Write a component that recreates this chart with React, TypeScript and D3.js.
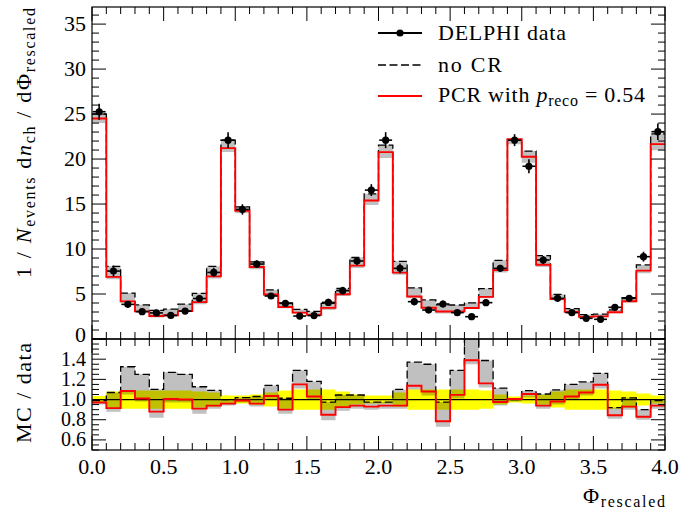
import React from 'react';
import * as d3 from 'd3';

// ---- data (40 bins of width 0.1 in Phi_rescaled) ----
const binEdges = [
  0.0, 0.1, 0.2, 0.3, 0.4, 0.5, 0.6, 0.7, 0.8, 0.9,
  1.0, 1.1, 1.2, 1.3, 1.4, 1.5, 1.6, 1.7, 1.8, 1.9,
  2.0, 2.1, 2.2, 2.3, 2.4, 2.5, 2.6, 2.7, 2.8, 2.9,
  3.0, 3.1, 3.2, 3.3, 3.4, 3.5, 3.6, 3.7, 3.8, 3.9, 4.0,
];

const delphiData = [
  25.26, 7.55, 3.85, 3.04, 2.9, 2.62, 3.1, 4.5, 7.4, 22.1,
  14.4, 8.33, 4.78, 3.96, 2.55, 2.6, 4.07, 5.37, 8.67, 16.55,
  22.1, 7.85, 4.15, 3.22, 3.89, 2.93, 2.48, 4.04, 7.85, 22.1,
  19.2, 8.78, 4.52, 2.93, 2.3, 2.19, 3.52, 4.52, 9.15, 23.04,
];

const dataRelErr = [
  0.035, 0.08, 0.09, 0.09, 0.09, 0.09, 0.09, 0.08, 0.07, 0.04,
  0.04, 0.05, 0.07, 0.09, 0.1, 0.1, 0.1, 0.08, 0.05, 0.04,
  0.04, 0.07, 0.1, 0.1, 0.1, 0.1, 0.1, 0.09, 0.05, 0.03,
  0.04, 0.05, 0.08, 0.1, 0.1, 0.1, 0.09, 0.08, 0.06, 0.04,
];

const noCRRatio = [
  0.99, 1.07, 1.325, 1.25, 1.1, 1.27, 1.25, 1.127, 1.09, 1.0,
  1.02, 1.03, 1.14, 1.013, 1.29, 1.18, 0.975, 1.045, 1.045, 0.975,
  0.975, 1.1, 1.37, 1.35, 0.975, 1.29, 1.62, 1.387, 1.114, 1.0,
  1.088, 1.055, 1.095, 1.15, 1.175, 1.26, 0.92, 1.017, 0.9, 0.99,
];

const pcrRatio = [
  0.97, 0.915, 1.085, 1.01, 0.88, 1.005, 1.0, 0.91, 0.94, 0.96,
  0.99, 0.96, 1.035, 0.9, 1.15, 1.03, 0.85, 0.925, 0.94, 0.93,
  0.94, 0.94, 1.137, 1.08, 0.785, 1.046, 1.39, 1.16, 0.975, 1.005,
  1.055, 0.94, 0.98, 1.03, 1.07, 1.146, 0.845, 0.93, 0.83, 0.94,
];

const bandLowRatio = [
  0.95, 0.88, 1.05, 0.98, 0.82, 0.97, 0.97, 0.86, 0.91, 0.94,
  0.97, 0.93, 1.0, 0.86, 1.11, 1.0, 0.795, 0.89, 0.91, 0.9,
  0.91, 0.91, 1.1, 1.04, 0.73, 1.01, 1.35, 1.12, 0.94, 0.98,
  1.02, 0.91, 0.95, 1.0, 1.04, 1.11, 0.81, 0.9, 0.8, 0.91,
];

const xTickValues = [0, 0.5, 1.0, 1.5, 2.0, 2.5, 3.0, 3.5, 4.0];
const xTickLabels = ['0.0', '0.5', '1.0', '1.5', '2.0', '2.5', '3.0', '3.5', '4.0'];
const yMainTickValues = [0, 5, 10, 15, 20, 25, 30, 35];
const yMainTickLabels = ['0', '5', '10', '15', '20', '25', '30', '35'];
const yRatioTickValues = [0.6, 0.8, 1.0, 1.2, 1.4];
const yRatioTickLabels = ['0.6', '0.8', '1.0', '1.2', '1.4'];

// ---- layout ----
const W = 683;
const H = 521;
const PL = 92;
const PR = 665;
const PT = 7;
const PM = 339;
const PB = 450;
const FONT = 'Liberation Serif';
const FS = 22;
const SUB = 16;

export default function App() {
  const n = delphiData.length;
  const x = d3.scaleLinear().domain([0, 4]).range([PL, PR]);
  const yM = d3.scaleLinear().domain([0, 36.9]).range([PM, PT]);
  const yR = d3.scaleLinear().domain([0.5, 1.6]).range([PB, PM]);

  const idx = d3.range(n + 1);
  const at = (arr: number[], i: number) => arr[Math.min(i, n - 1)];

  const noCRMain = delphiData.map((d, i) => d * noCRRatio[i]);
  const pcrMain = delphiData.map((d, i) => d * pcrRatio[i]);
  const bandHiRatio = noCRRatio.map((v, i) => Math.max(v, pcrRatio[i]));
  const bandHiMain = delphiData.map((d, i) => d * bandHiRatio[i]);
  const bandLoMain = delphiData.map((d, i) => d * bandLowRatio[i]);
  const ones = delphiData.map(() => 1);
  const yelLo = dataRelErr.map((e) => 1 - e);
  const yelHi = dataRelErr.map((e) => 1 + e);

  const stepLine = (ys: d3.ScaleLinear<number, number>, arr: number[]) =>
    d3
      .line<number>()
      .x((i) => x(binEdges[i]))
      .y((i) => ys(at(arr, i)))
      .curve(d3.curveStepAfter)(idx) || '';
  const stepArea = (ys: d3.ScaleLinear<number, number>, lo: number[], hi: number[]) =>
    d3
      .area<number>()
      .x((i) => x(binEdges[i]))
      .y0((i) => ys(at(lo, i)))
      .y1((i) => ys(at(hi, i)))
      .curve(d3.curveStepAfter)(idx) || '';

  const xMinor = d3.range(0, 41).map((k) => k / 10);
  const yMainMinor = d3.range(0, 37);
  const yRatioMinor = d3.range(10, 33).map((k) => k * 0.05);

  const tickLines: any[] = [];
  const addXTicks = (yy: number, dir: number, key: string) => {
    xMinor.forEach((v, k) => {
      const major = k % 5 === 0;
      const len = major ? 14 : 7;
      tickLines.push(
        <line key={`${key}-${k}`} x1={x(v)} x2={x(v)} y1={yy} y2={yy + dir * len} stroke="#000" strokeWidth={1} />
      );
    });
  };
  addXTicks(PT, 1, 'mt');
  addXTicks(PM, -1, 'mb');
  addXTicks(PM, 1, 'rt');
  addXTicks(PB, -1, 'rb');
  yMainMinor.forEach((v) => {
    const major = v % 5 === 0;
    const len = major ? 14 : 7;
    tickLines.push(<line key={`ml${v}`} x1={PL} x2={PL + len} y1={yM(v)} y2={yM(v)} stroke="#000" strokeWidth={1} />);
    tickLines.push(<line key={`mr${v}`} x1={PR} x2={PR - len} y1={yM(v)} y2={yM(v)} stroke="#000" strokeWidth={1} />);
  });
  yRatioMinor.forEach((v, k) => {
    const major = Math.abs(v * 5 - Math.round(v * 5)) < 1e-6;
    const len = major ? 14 : 7;
    tickLines.push(<line key={`rl${k}`} x1={PL} x2={PL + len} y1={yR(v)} y2={yR(v)} stroke="#000" strokeWidth={1} />);
    tickLines.push(<line key={`rr${k}`} x1={PR} x2={PR - len} y1={yR(v)} y2={yR(v)} stroke="#000" strokeWidth={1} />);
  });

  const binCenter = (i: number) => (binEdges[i] + binEdges[i + 1]) / 2;
  const ts = { fontFamily: FONT };
  const dash = '8,3.5';

  return (
    <svg width={W} height={H} style={{ position: 'absolute', left: 0, top: 0, background: '#fff', fontFamily: FONT }}>
      <defs>
        <clipPath id="clipMain">
          <rect x={PL} y={PT} width={PR - PL} height={PM - PT} />
        </clipPath>
        <clipPath id="clipRatio">
          <rect x={PL} y={PM} width={PR - PL} height={PB - PM} />
        </clipPath>
      </defs>
      <rect x={0} y={0} width={W} height={H} fill="#fff" />

      {/* main panel */}
      <g clipPath="url(#clipMain)">
        <path d={stepArea(yM, bandLoMain, bandHiMain)} fill="#c0c0c0" stroke="none" />
        <path d={stepLine(yM, noCRMain)} fill="none" stroke="#000" strokeWidth={1.3} strokeDasharray={dash} />
        <path d={stepLine(yM, pcrMain)} fill="none" stroke="#ff0000" strokeWidth={1.9} />
        {delphiData.map((d, i) => {
          const cx = x(binCenter(i));
          const e = d * dataRelErr[i];
          return (
            <g key={`pt${i}`}>
              <line x1={cx} x2={cx} y1={yM(d - e)} y2={yM(d + e)} stroke="#000" strokeWidth={1.6} />
              <line x1={x(binCenter(i) - 0.045)} x2={x(binCenter(i) + 0.045)} y1={yM(d)} y2={yM(d)} stroke="#000" strokeWidth={1.6} />
              <circle cx={cx} cy={yM(d)} r={3.6} fill="#000" />
            </g>
          );
        })}
      </g>

      {/* ratio panel */}
      <g clipPath="url(#clipRatio)">
        <path d={stepArea(yR, yelLo, yelHi)} fill="#ffff00" stroke="none" />
        <path d={stepArea(yR, bandLowRatio, bandHiRatio)} fill="#c0c0c0" stroke="none" style={{ mixBlendMode: 'multiply' }} />
        <path d={stepLine(yR, ones)} fill="none" stroke="#000" strokeWidth={1.2} />
        <path d={stepLine(yR, noCRRatio)} fill="none" stroke="#000" strokeWidth={1.3} strokeDasharray={dash} />
        <path d={stepLine(yR, pcrRatio)} fill="none" stroke="#ff0000" strokeWidth={1.9} />
      </g>

      {tickLines}
      <rect x={PL} y={PT} width={PR - PL} height={PM - PT} fill="none" stroke="#000" strokeWidth={1.2} />
      <rect x={PL} y={PM} width={PR - PL} height={PB - PM} fill="none" stroke="#000" strokeWidth={1.2} />

      {/* tick labels */}
      {yMainTickValues.map((v, k) => (
        <text key={`yl${k}`} style={ts} x={PL - 6} y={yM(v) + (v === 0 ? 3 : 7)} textAnchor="end" fontSize={FS}>
          {yMainTickLabels[k]}
        </text>
      ))}
      {yRatioTickValues.map((v, k) => (
        <text key={`yrl${k}`} style={ts} x={PL - 6} y={yR(v) + 6.5} textAnchor="end" fontSize={20}>
          {yRatioTickLabels[k]}
        </text>
      ))}
      {xTickValues.map((v, k) => (
        <text key={`xl${k}`} style={ts} x={x(v)} y={474} textAnchor="middle" fontSize={FS}>
          {xTickLabels[k]}
        </text>
      ))}

      {/* axis titles */}
      <text style={ts} transform={`translate(31,${PT + 1}) rotate(-90)`} textAnchor="end" fontSize={FS} textLength={270} lengthAdjust="spacing">
        <tspan>1 / </tspan>
        <tspan fontStyle="italic">N</tspan>
        <tspan fontSize={SUB} dy={4}>events</tspan>
        <tspan dy={-4}> d</tspan>
        <tspan fontStyle="italic">n</tspan>
        <tspan fontSize={SUB} dy={4}>ch</tspan>
        <tspan dy={-4}> / dΦ</tspan>
        <tspan fontSize={SUB} dy={4}>rescaled</tspan>
      </text>
      <text style={ts} transform={`translate(31,${PM + 4}) rotate(-90)`} textAnchor="end" fontSize={FS} textLength={100} lengthAdjust="spacing">
        MC / data
      </text>
      <text style={ts} x={PR} y={503} textAnchor="end" fontSize={FS} textLength={82} lengthAdjust="spacing">
        <tspan>Φ</tspan>
        <tspan fontSize={SUB} dy={4}>rescaled</tspan>
      </text>

      {/* legend */}
      <line x1={378} x2={422} y1={33} y2={33} stroke="#000" strokeWidth={2} />
      <circle cx={400} cy={33} r={3.6} fill="#000" />
      <text style={ts} x={438} y={39.5} fontSize={FS} textLength={128} lengthAdjust="spacing">DELPHI data</text>
      <line x1={378} x2={422} y1={65} y2={65} stroke="#000" strokeWidth={1.3} strokeDasharray={dash} />
      <text style={ts} x={438} y={71.5} fontSize={FS} textLength={64} lengthAdjust="spacing">no CR</text>
      <line x1={378} x2={422} y1={96} y2={96} stroke="#ff0000" strokeWidth={1.9} />
      <text style={ts} x={438} y={102} fontSize={FS} textLength={207} lengthAdjust="spacing">
        <tspan>PCR with </tspan>
        <tspan fontStyle="italic">p</tspan>
        <tspan fontSize={SUB} dy={4}>reco</tspan>
        <tspan dy={-4}> = 0.54</tspan>
      </text>
    </svg>
  );
}
